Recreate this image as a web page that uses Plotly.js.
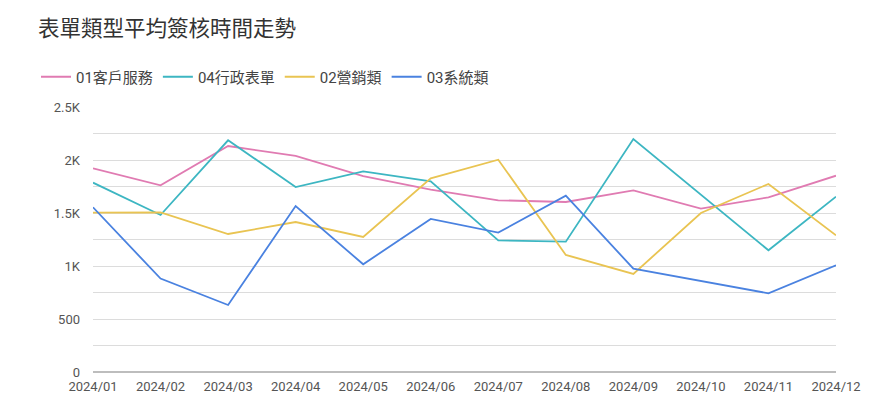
<!DOCTYPE html>
<html>
<head>
<meta charset="utf-8">
<script src="https://cdn.plot.ly/plotly-3.0.1.min.js"></script>
<style>html,body{margin:0;padding:0;background:#fff;}#chart{width:886px;height:413px;}</style>
</head>
<body>
<div id="chart"></div>
<script>
const months = ['2024/01','2024/02','2024/03','2024/04','2024/05','2024/06','2024/07','2024/08','2024/09','2024/10','2024/11','2024/12'];
const seriesNames = ['01客戶服務','04行政表單','02營銷類','03系統類'];
const customerService = [1921,1761,2132,2038,1849,1720,1620,1604,1714,1541,1648,1852];
const adminForms = [1786,1481,2186,1745,1893,1799,1242,1230,2198,1673,1148,1654];
const marketing = [1503,1505,1302,1415,1274,1827,2003,1104,925,1500,1774,1289];
const systems = [1554,881,632,1566,1016,1444,1315,1664,975,862,742,1006];
const yTickVals = [0,250,500,750,1000,1250,1500,1750,2000,2250,2500];
const yTickText = ['0','','500','','1K','','1.5K','','2K','','2.5K'];
const colors = ['#e07bb2','#3db6c2','#e9c452','#4a82e0'];
const values = [customerService, adminForms, marketing, systems];

const font = 'Roboto, "Noto Sans CJK TC", "Noto Sans CJK SC", sans-serif';
const traces = values.map((v,i)=>({
  type:'scatter', mode:'lines', x:months, y:v, name:seriesNames[i],
  line:{color:colors[i], width:1.8}
}));

const layout = {
  width:886, height:413,
  margin:{l:93, r:50, t:107, b:41},
  paper_bgcolor:'#fff', plot_bgcolor:'#fff',
  font:{family:font, color:'#444', size:13},
  title:{text:'表單類型平均簽核時間走勢', font:{family:font, size:21.5, color:'#333'}, xref:'container', x:38/886, xanchor:'left', yref:'container', y:1-28/413, yanchor:'middle'},
  showlegend:true,
  legend:{orientation:'h', xref:'container', yref:'container', x:36/886, xanchor:'left', y:1-77/413, yanchor:'middle', font:{family:font, size:15, color:'#444'}, tracegroupgap:0},
  xaxis:{type:'category', showgrid:false, zeroline:false, showline:false, ticks:'', tickfont:{size:13, color:'#555'}, range:[0,11], ticklabelstandoff:5},
  yaxis:{range:[0,2500], tickvals:yTickVals, ticktext:yTickText, showgrid:true, gridcolor:'#dcdcdc', gridwidth:1, zeroline:true, zerolinecolor:'#bdbdbd', zerolinewidth:1.5, showline:false, ticks:'', tickfont:{size:13, color:'#555'}, ticklabelstandoff:12}
};
Plotly.newPlot('chart', traces, layout, {displayModeBar:false, staticPlot:true});
</script>
</body>
</html>
